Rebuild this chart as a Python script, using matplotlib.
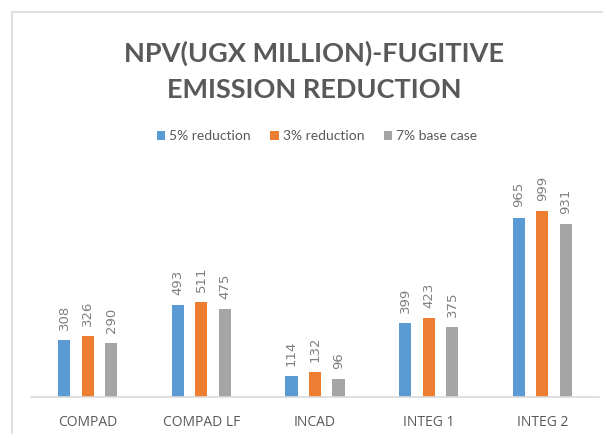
import matplotlib
matplotlib.use('Agg')
import matplotlib.pyplot as plt
import matplotlib.patches as patches
import numpy as np

categories = ['COMPAD', 'COMPAD LF', 'INCAD', 'INTEG 1', 'INTEG 2']
series_names = ['5% reduction', '3% reduction', '7% base case']
red5 = [308, 493, 114, 399, 965]
red3 = [326, 511, 132, 423, 999]
base7 = [290, 475, 96, 375, 931]
colors = ['#5B9BD5', '#ED7D31', '#A5A5A5']

W, H = 603, 434
fig = plt.figure(figsize=(W / 100, H / 100), dpi=100)
fig.patch.set_facecolor('white')

# chart frame (cut off at right and bottom like the screenshot)
fig.patches.append(patches.Rectangle((12 / W, -0.1), 1.2, 1 - 12 / H + 0.1,
                                     transform=fig.transFigure, fill=False,
                                     edgecolor='#D9D9D9', linewidth=1.2))

ax = fig.add_axes([31 / W, (H - 397) / H, (599 - 31) / W, (397 - 174) / H])
x = np.arange(len(categories))
bw = 0.106
offs = [-0.207, 0, 0.207]
for vals, off, c, name in zip([red5, red3, base7], offs, colors, series_names):
    bars = ax.bar(x + off, vals, width=bw, color=c, label=name, zorder=2)
    for b, v in zip(bars, vals):
        ax.text(b.get_x() + b.get_width() / 2, v + 55, str(v), rotation=90,
                ha='center', va='bottom', fontsize=9.5, color='#7F7F7F',
                family='DejaVu Sans')

ax.set_xlim(-0.5, len(categories) - 0.5)
ax.set_ylim(0, 1200)
ax.set_yticks([])
ax.set_xticks(x)
ax.set_xticklabels(categories, fontsize=10, color='#595959', family='Open Sans')
ax.tick_params(axis='x', length=0, pad=13)
for s in ['top', 'right', 'left']:
    ax.spines[s].set_visible(False)
ax.spines['bottom'].set_color('#D9D9D9')
ax.spines['bottom'].set_linewidth(1.2)

fig.text(314 / W, 1 - 53 / H, 'NPV(UGX MILLION)-FUGITIVE', ha='center', va='center',
         fontsize=19.5, fontweight='bold', color='#595959', family='Lato')
fig.text(314 / W, 1 - 90 / H, 'EMISSION REDUCTION', ha='center', va='center',
         fontsize=19.5, fontweight='bold', color='#595959', family='Lato')

handles, labels = ax.get_legend_handles_labels()
fig.legend(handles, labels, loc='center', bbox_to_anchor=(317 / W, 1 - 136 / H),
           ncol=3, frameon=False, handlelength=0.6, handleheight=0.6,
           handletextpad=0.3, columnspacing=1.4,
           prop={'family': 'Lato', 'size': 10})
for t in fig.legends[0].get_texts():
    t.set_color('#595959')

plt.savefig('out.png', dpi=100, facecolor='white')
plt.close()
